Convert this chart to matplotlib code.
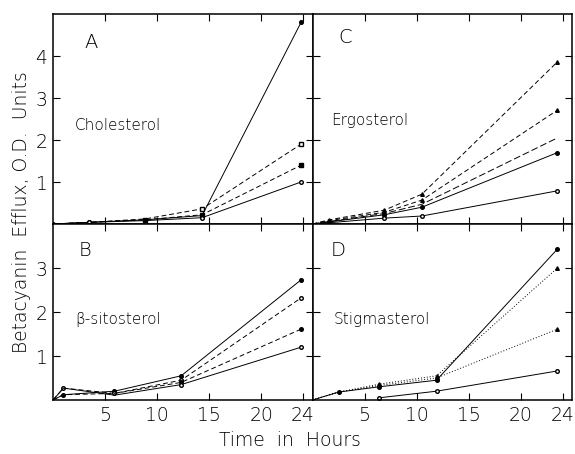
import numpy as np
import matplotlib
matplotlib.use("Agg")
import matplotlib.pyplot as plt

plt.rcParams['font.family'] = ['DejaVu Sans']
plt.rcParams['font.weight'] = 'light'

# Datos (tiempo en horas, eflujo en unidades D.O.)
t_A = [0, 3.5, 8.8, 14.3, 23.8]
A_solid_fill = [0, 0.04, 0.10, 0.20, 4.80]
A_dash_opensq = [0, 0.04, 0.12, 0.36, 1.90]
A_dash_fillsq = [0, 0.04, 0.10, 0.22, 1.40]
A_solid_open = [0, 0.04, 0.08, 0.15, 1.00]

t_B = [0, 1.0, 5.9, 12.3, 23.8]
B_solid_fill = [0, 0.12, 0.20, 0.55, 2.73]
B_dash_open = [0, 0.27, 0.15, 0.45, 2.32]
B_dash_fill = [0, 0.12, 0.15, 0.40, 1.61]
B_solid_open = [0, 0.27, 0.11, 0.35, 1.20]

t_C = [0, 1.6, 6.9, 10.5, 23.5]
C_dash_tri1 = [0, 0.10, 0.33, 0.71, 3.86]
C_dash_tri2 = [0, 0.08, 0.28, 0.57, 2.71]
C_dash_plain = [0, 0.06, 0.25, 0.47, 2.05]
C_solid_fill = [0, 0.05, 0.22, 0.40, 1.70]
C_solid_open = [0, 0.03, 0.14, 0.19, 0.79]

t_D = [0, 2.5, 6.4, 11.9, 23.5]
D_solid_fill = [0, 0.18, 0.30, 0.45, 3.43]
D_dot_tri1 = [0, 0.18, 0.36, 0.55, 3.00]
D_dot_tri2 = [0, 0.18, 0.33, 0.50, 1.61]
D_solid_open = [np.nan, np.nan, 0.05, 0.20, 0.66]

x_ticks = [5, 10, 15, 20, 24]

fig = plt.figure(figsize=(5.75, 4.54), dpi=100)
gs = fig.add_gridspec(2, 2, left=53/575, right=572/575, bottom=54/454, top=440/454,
                      height_ratios=[210, 176], wspace=0, hspace=0)
axA = fig.add_subplot(gs[0, 0])
axC = fig.add_subplot(gs[0, 1])
axB = fig.add_subplot(gs[1, 0])
axD = fig.add_subplot(gs[1, 1])

lw = 0.7
ms = 2.6
k = 'black'
dash = (0, (5, 3))
dot = (0, (1, 2))

# Panel A - colesterol
axA.plot(t_A, A_solid_fill, color=k, lw=lw, marker='o', ms=ms, mfc=k)
axA.plot(t_A, A_dash_opensq, color=k, lw=lw, ls=dash, marker='s', ms=ms, mfc='white', markevery=[3, 4])
axA.plot(t_A, A_dash_fillsq, color=k, lw=lw, ls=dash, marker='s', ms=ms, mfc=k, markevery=[2, 3, 4])
axA.plot(t_A, A_solid_open, color=k, lw=lw, marker='o', ms=ms, mfc='white', markevery=[1, 3, 4])

# Panel B - beta-sitosterol
axB.plot(t_B, B_solid_fill, color=k, lw=lw, marker='o', ms=ms, mfc=k, markevery=[1, 2, 3, 4])
axB.plot(t_B, B_dash_open, color=k, lw=lw, ls=dash, marker='o', ms=ms, mfc='white', markevery=[1, 2, 3, 4])
axB.plot(t_B, B_dash_fill, color=k, lw=lw, ls=dash, marker='o', ms=ms, mfc=k, markevery=[3, 4])
axB.plot(t_B, B_solid_open, color=k, lw=lw, marker='o', ms=ms, mfc='white', markevery=[3, 4])

# Panel C - ergosterol
axC.plot(t_C, C_dash_tri1, color=k, lw=lw, ls=dash, marker='^', ms=ms, mfc=k, markevery=[1, 2, 3, 4])
axC.plot(t_C, C_dash_tri2, color=k, lw=lw, ls=dash, marker='^', ms=ms, mfc=k, markevery=[1, 2, 3, 4])
axC.plot(t_C, C_dash_plain, color=k, lw=lw, ls=(0, (7, 3)))
axC.plot(t_C, C_solid_fill, color=k, lw=lw, marker='o', ms=ms, mfc=k, markevery=[2, 3, 4])
axC.plot(t_C, C_solid_open, color=k, lw=lw, marker='o', ms=ms, mfc='white', markevery=[2, 3, 4])

# Panel D - estigmasterol
axD.plot(t_D, D_solid_fill, color=k, lw=lw, marker='o', ms=ms, mfc=k, markevery=[1, 2, 3, 4])
axD.plot(t_D, D_dot_tri1, color=k, lw=lw, ls=dot, marker='^', ms=ms, mfc=k, markevery=[2, 3, 4])
axD.plot(t_D, D_dot_tri2, color=k, lw=lw, ls=dot, marker='^', ms=ms, mfc=k, markevery=[2, 3, 4])
axD.plot(t_D, D_solid_open, color=k, lw=lw, marker='o', ms=ms, mfc='white')

for ax in (axA, axB, axC, axD):
    ax.set_xlim(0, 24.9)
    ax.set_xticks(x_ticks)
    ax.tick_params(direction='in', length=5, width=0.8, top=True, right=True,
                   labelsize=13.5, pad=4)
    for sp in ax.spines.values():
        sp.set_linewidth(1.1)

for ax in (axA, axC):
    ax.set_ylim(0, 5)
    ax.set_yticks([1, 2, 3, 4])
for ax in (axB, axD):
    ax.set_ylim(0, 4)
    ax.set_yticks([1, 2, 3])

for ax in (axA, axC):
    ax.tick_params(labelbottom=False)
for ax in (axC, axD):
    ax.tick_params(labelleft=False)

# Letras y nombres de cada panel
axA.text(0.12, 0.84, 'A', transform=axA.transAxes, fontsize=14)
axA.text(0.085, 0.45, 'Cholesterol', transform=axA.transAxes, fontsize=11)
axC.text(0.1, 0.86, 'C', transform=axC.transAxes, fontsize=14)
axC.text(0.07, 0.47, 'Ergosterol', transform=axC.transAxes, fontsize=11)
axB.text(0.1, 0.82, 'B', transform=axB.transAxes, fontsize=14)
axB.text(0.085, 0.43, 'β-sitosterol', transform=axB.transAxes, fontsize=11)
axD.text(0.07, 0.82, 'D', transform=axD.transAxes, fontsize=14)
axD.text(0.08, 0.43, 'Stigmasterol', transform=axD.transAxes, fontsize=11)

fig.text(22/575, 1 - 212/454, 'Betacyanin  Efflux, O.D.  Units', rotation=90,
         ha='center', va='center', fontsize=13.5)
fig.text(290/575, 1 - 440/454, 'Time  in  Hours', ha='center', va='center', fontsize=13.5)

fig.savefig('out.png', dpi=100)
